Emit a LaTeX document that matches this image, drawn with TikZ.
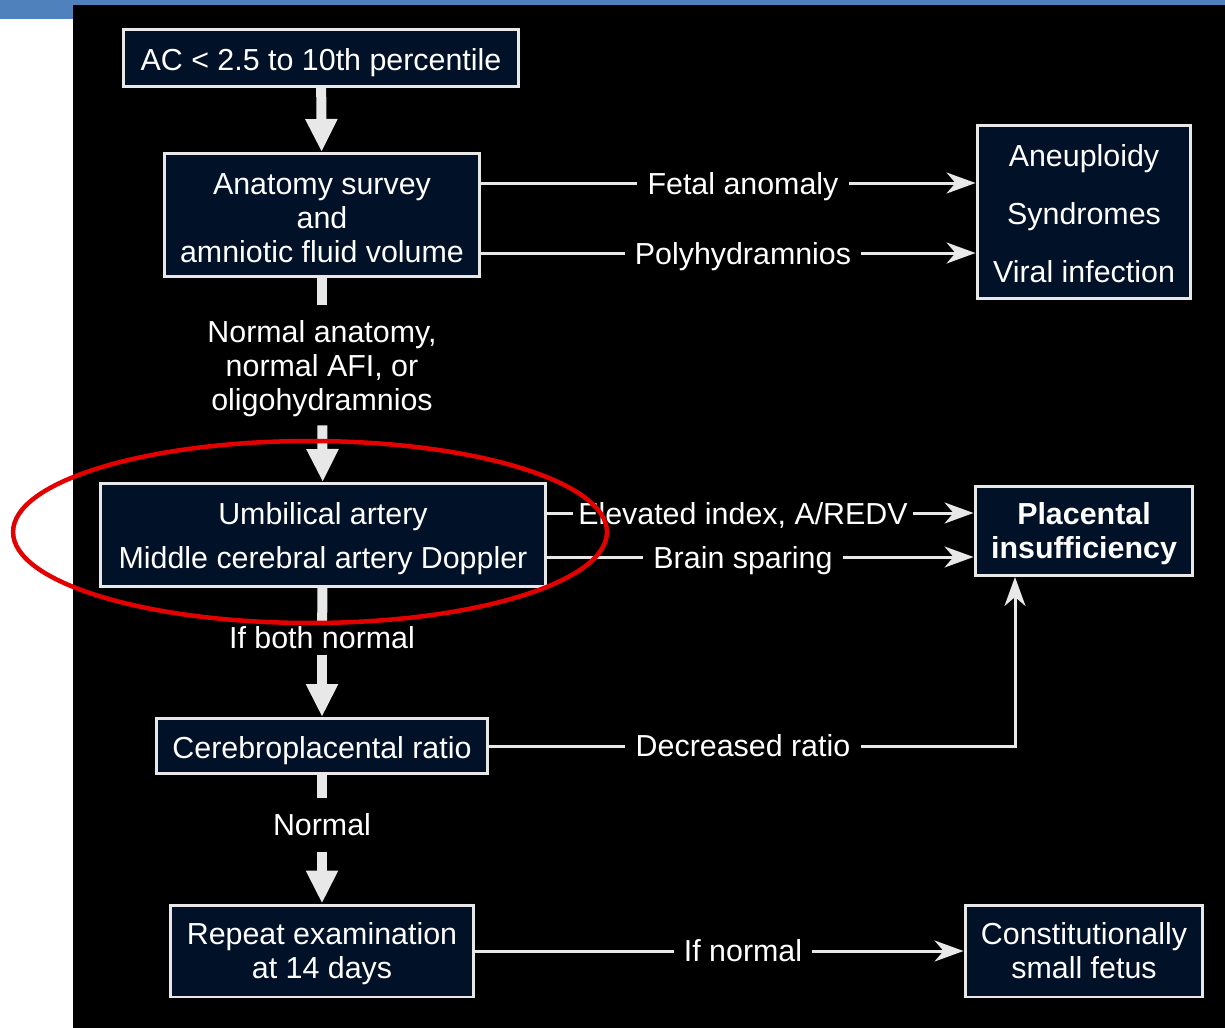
\documentclass[tikz,border=0pt]{standalone}
\usepackage{fontspec}
\setmainfont{Liberation Sans}
\usetikzlibrary{arrows.meta,positioning}
\definecolor{boxnavy}{RGB}{0,17,40}
\definecolor{lightline}{RGB}{232,232,232}
\definecolor{slideblue}{RGB}{79,129,189}
\definecolor{ringred}{RGB}{226,0,0}
\newcommand{\linelift}[1][15.4pt]{\rule{0pt}{#1}}
\tikzset{
  box/.style={rectangle, draw=lightline, line width=0.06cm, fill=boxnavy, text=white,
    align=center, inner sep=0pt, font=\fontsize{17.3}{19.3}\selectfont},
  lbl/.style={text=white, align=center, inner xsep=0.2cm, inner ysep=0.12cm,
    font=\fontsize{17.3}{19.3}\selectfont},
  flat/.style={text depth=0pt},
  flowline/.style={draw=lightline, line width=0.06cm},
  flowbar/.style={draw=lightline, line width=0.2cm},
  linearrow/.style={flowline, -{Stealth[length=0.58cm,width=0.42cm,inset=0.18cm]}},
  bararrow/.style={flowbar, -{Triangle[length=0.66cm,width=0.6cm]}},
}
\begin{document}
\begin{tikzpicture}[x=0.02cm,y=-0.02cm]
\useasboundingbox (0,0) rectangle (1225,1028);
% slide background
\fill[white] (0,0) rectangle (1225,1028);
\fill[slideblue] (0,0) rectangle (1225,19);
\fill[black] (73,5) rectangle (1225,1028);

% boxes
\node[box, text height=18pt, minimum width=7.9cm, minimum height=1.14cm] (ac) at (321,58) {AC < 2.5 to 10th percentile};
\node[box, minimum width=6.3cm, minimum height=2.46cm] (anat) at (322,215) {\linelift Anatomy survey\\and\\amniotic fluid volume};
\node[box, minimum width=4.28cm, minimum height=3.48cm] (aneu) at (1084,212) {\linelift[14pt]Aneuploidy\\[13.7pt]Syndromes\\[13.7pt]Viral infection};
\node[box, minimum width=8.92cm, minimum height=2.06cm] (umb) at (323,535) {\linelift[16.8pt]Umbilical artery\\[5.6pt]Middle cerebral artery Doppler};
\node[box, minimum width=4.36cm, minimum height=1.78cm, font=\fontsize{17.3}{19.3}\selectfont\bfseries] (plac) at (1084,531) {\linelift Placental\\insufficiency};
\node[box, text height=18pt, minimum width=6.62cm, minimum height=1.1cm] (cpr) at (322,746) {Cerebroplacental ratio};
\node[box, minimum width=6.08cm, minimum height=1.84cm] (rep) at (322,951) {\linelift Repeat examination\\at 14 days};
\node[box, minimum width=4.76cm, minimum height=1.84cm] (small) at (1084,951) {Constitutionally\\small fetus};

% labels
\node[lbl, inner ysep=0.16cm] (normanat) at (322,365) {\linelift[17pt]Normal anatomy,\\normal AFI, or\\oligohydramnios};
\node[lbl, inner ysep=0.1cm] (bothnorm) at (322,638) {If both normal};
\node[lbl, inner ysep=0.3cm] (norm) at (322,825) {Normal};
\node[lbl, flat] (fetal) at (743,183) {Fetal anomaly};
\node[lbl, flat] (poly) at (743,253) {Polyhydramnios};
\node[lbl, flat, inner xsep=0.1cm] (elev) at (743,513) {Elevated index, A/REDV};
\node[lbl, flat] (brain) at (743,557) {Brain sparing};
\node[lbl] (decr) at (743,746) {Decreased ratio};
\node[lbl] (ifnorm) at (743,951) {If normal};
\coordinate (corner) at (1015,746);

% main column
\draw[bararrow] (ac) -- (anat);
\draw[flowbar] (anat) -- (normanat);
\draw[bararrow] (normanat) -- (umb);
\draw[flowbar] (umb) -- (bothnorm);
\draw[bararrow] (bothnorm) -- (cpr);
\draw[flowbar] (cpr) -- (norm);
\draw[bararrow] (norm) -- (rep);

% side branches
\draw[flowline] (anat.east |- fetal) -- (fetal);
\draw[linearrow] (fetal) -- (aneu.west |- fetal);
\draw[flowline] (anat.east |- poly) -- (poly);
\draw[linearrow] (poly) -- (aneu.west |- poly);
\draw[flowline] (umb.east |- elev) -- (elev);
\draw[linearrow] (elev) -- (plac.west |- elev);
\draw[flowline] (umb.east |- brain) -- (brain);
\draw[linearrow] (brain) -- (plac.west |- brain);
\draw[flowline] (cpr) -- (decr);
\draw[linearrow] (decr) -- (corner) -- (plac.south -| corner);
\draw[flowline] (rep) -- (ifnorm);
\draw[linearrow] (ifnorm) -- (small);

% highlight ring
\draw[ringred, line width=0.09cm] (310,532) ellipse [x radius=5.94cm, y radius=1.82cm];
\end{tikzpicture}
\end{document}
